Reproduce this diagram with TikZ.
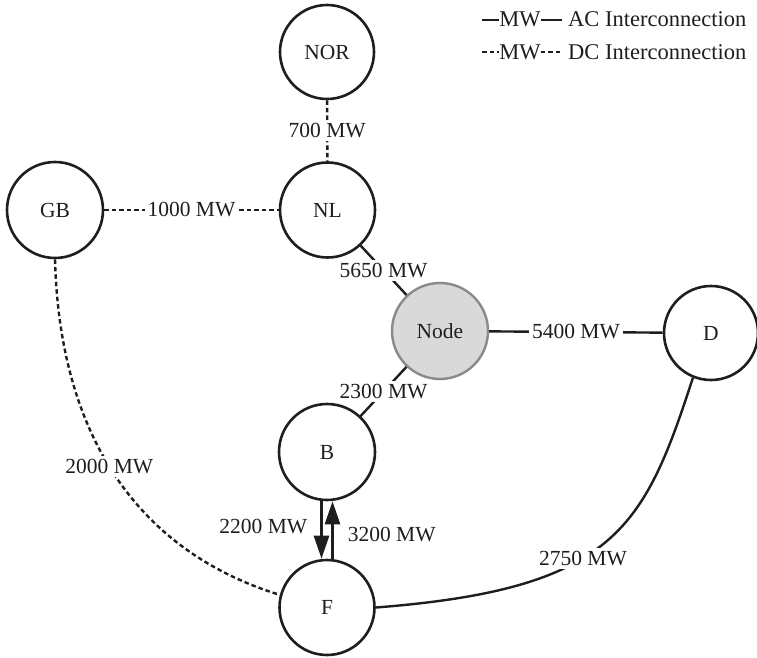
\documentclass[tikz,border=0pt]{standalone}
\usepackage{fontspec}
\setmainfont{Liberation Serif}
\usetikzlibrary{arrows.meta}
\definecolor{ink}{HTML}{1E1E1E}
\definecolor{nodefill}{HTML}{D9D9D9}
\definecolor{nodeline}{HTML}{8A8A8A}
\tikzset{
  country/.style={circle, draw=ink, line width=2.6pt, fill=white, inner sep=0pt, text=ink, font=\fontsize{21.5}{25}\selectfont},
  hub/.style={country, fill=nodefill, draw=nodeline, line width=2.4pt},
  acline/.style={draw=ink, line width=2.4pt},
  dcline/.style={draw=ink, line width=2.4pt, dash pattern=on 4.5pt off 3pt},
  lbl/.style={fill=white, inner sep=3pt, text=ink, font=\fontsize{21.5}{25}\selectfont},
  plain/.style={inner sep=0pt, text=ink, font=\fontsize{21.5}{25}\selectfont},
  legtext/.style={inner sep=0pt, text=ink, font=\fontsize{22.5}{26}\selectfont},
  flow/.style={draw=ink, line width=2.6pt, -{Triangle[length=23pt,width=15pt]}}
}
\begin{document}
\begin{tikzpicture}[x=1pt,y=-1pt]
\useasboundingbox (0,0) rectangle (757,658);
% nodes
\node[country, minimum size=94pt] (NOR) at (327,52) {NOR};
\node[country, minimum size=95pt] (NL) at (327.5,210) {NL};
\node[country, minimum size=96pt] (GB) at (55,210) {GB};
\node[hub, minimum size=96pt] (Node) at (440,331) {Node};
\node[country, minimum size=94pt] (D) at (711,333) {D};
\node[country, minimum size=96pt] (B) at (327,452) {B};
\node[country, minimum size=95pt] (F) at (327,607.5) {F};
% connectors
\draw[dcline] (NOR) -- node[lbl]{700 MW} (NL);
\draw[dcline] (GB) -- node[lbl]{1000 MW} (NL);
\draw[acline] (NL) -- node[lbl]{5650 MW} (Node);
\draw[acline] (Node) -- node[lbl]{2300 MW} (B);
\draw[acline] (Node) -- node[lbl]{5400 MW} (D);
\draw[dcline] (GB.south) .. controls (60,450) and (150,555) .. node[lbl, pos=0.45]{2000 MW} (F.165);
\draw[acline] (D.248) .. controls (644,528) and (615,589) .. node[lbl, pos=0.58]{2750 MW} (F.east);
\draw[flow] ([xshift=-5.5pt]B.south) -- node[plain, anchor=east, xshift=-13pt, yshift=3pt]{2200 MW} ([xshift=-5.5pt]F.north);
\draw[flow] ([xshift=5.5pt]F.north) -- node[plain, anchor=west, xshift=14pt, yshift=-5pt]{3200 MW} ([xshift=5.5pt]B.south);
% legend
\node[legtext, anchor=base] (mwAC) at (520,27) {MW};
\node[legtext, anchor=base west] (txtAC) at (568,27) {AC Interconnection};
\coordinate (acL) at (482,20);
\coordinate (acR) at (562,20);
\draw[acline] (acL) -- (acL -| mwAC.west);
\draw[acline] (acR -| mwAC.east) -- (acR);
\node[legtext, anchor=base] (mwDC) at (520,59.5) {MW};
\node[legtext, anchor=base west] (txtDC) at (568,59.5) {DC Interconnection};
\coordinate (dcL) at (482,52);
\coordinate (dcR) at (562,52);
\draw[dcline] (dcL) -- (dcL -| mwDC.west);
\draw[dcline] (dcR -| mwDC.east) -- (dcR);
\end{tikzpicture}
\end{document}
